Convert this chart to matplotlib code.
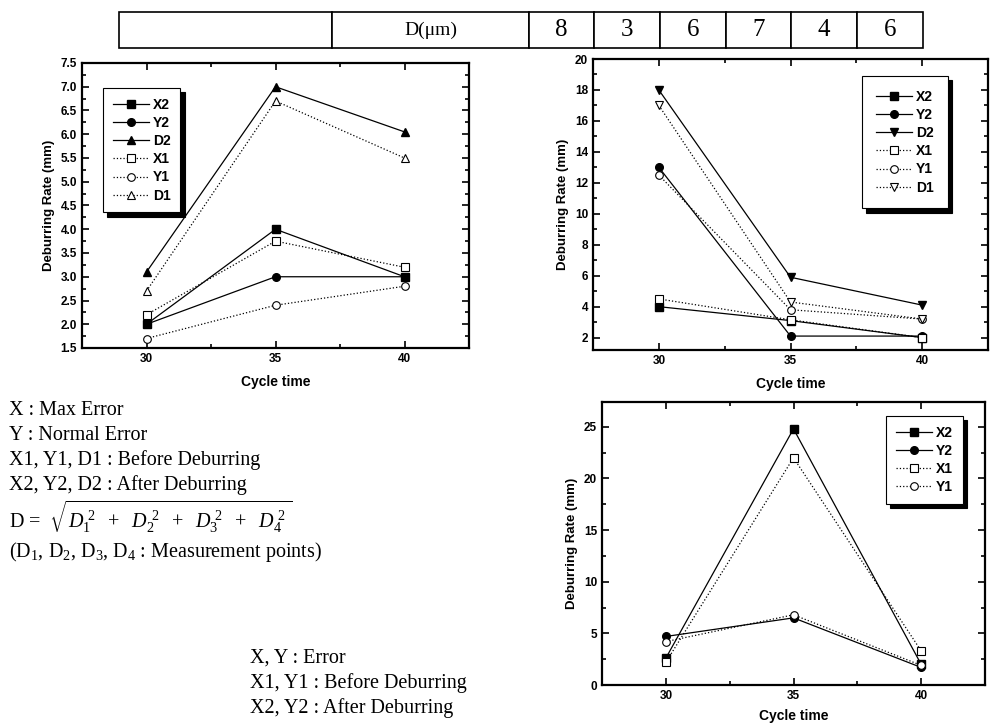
import matplotlib
matplotlib.use('Agg')
import matplotlib.pyplot as plt
from matplotlib.ticker import MultipleLocator, FormatStrFormatter

plt.rcParams['font.family'] = 'Liberation Sans'
plt.rcParams['font.weight'] = 'bold'
# math text in plain Times-like serif, not bold
plt.rcParams['mathtext.fontset'] = 'custom'
plt.rcParams['mathtext.rm'] = 'Liberation Serif:normal'
plt.rcParams['mathtext.it'] = 'Liberation Serif:italic:normal'
plt.rcParams['mathtext.bf'] = 'Liberation Serif:bold'

## data
cycle = [30, 35, 40]

# top left
tl_x2 = [2.0, 4.0, 3.0]
tl_y2 = [2.0, 3.0, 3.0]
tl_d2 = [3.1, 7.0, 6.05]
tl_x1 = [2.2, 3.75, 3.2]
tl_y1 = [1.7, 2.4, 2.8]
tl_d1 = [2.7, 6.7, 5.5]

# top right
tr_x2 = [4.0, 3.1, 2.0]
tr_y2 = [13.0, 2.1, 2.1]
tr_d2 = [18.0, 5.9, 4.1]
tr_x1 = [4.5, 3.15, 2.0]
tr_y1 = [12.5, 3.8, 3.2]
tr_d1 = [17.0, 4.3, 3.2]

# bottom right
br_x2 = [2.6, 24.8, 2.0]
br_y2 = [4.7, 6.5, 1.7]
br_x1 = [2.2, 22.0, 3.3]
br_y1 = [4.2, 6.8, 1.9]

table_head = ['', 'D(\u03bcm)']
table_vals = ['8', '3', '6', '7', '4', '6']

notes_1 = ['X : Max Error', 'Y : Normal Error',
           'X1, Y1, D1 : Before Deburring', 'X2, Y2, D2 : After Deburring']
notes_2 = ['X, Y : Error', 'X1, Y1 : Before Deburring', 'X2, Y2 : After Deburring']

W, H = 991, 724
fig = plt.figure(figsize=(W / 100, H / 100), dpi=100)


def px_axes(l, t, r, b):
    return fig.add_axes([l / W, 1 - b / H, (r - l) / W, (b - t) / H])


def style(ax, ylim, major, minor):
    ax.set_xlim(27.5, 42.5)
    ax.set_ylim(*ylim)
    ax.set_xticks(cycle)
    ax.xaxis.set_minor_locator(MultipleLocator(2.5))
    ax.yaxis.set_major_locator(MultipleLocator(major))
    ax.yaxis.set_minor_locator(MultipleLocator(minor))
    ax.tick_params(which='both', direction='in', top=True, right=True,
                   labelsize=8.5, width=1.2)
    ax.tick_params(which='major', length=5)
    ax.tick_params(which='minor', length=3)
    for s in ax.spines.values():
        s.set_linewidth(1.6)
    ax.set_xlabel('Cycle time', fontsize=10, fontweight='bold', labelpad=7)
    ax.set_ylabel('Deburring Rate (mm)', fontsize=9.5, fontweight='bold')


def series(ax, ys, labels, markers, after):
    for y, lab, m in zip(ys, labels, markers):
        if after:
            ax.plot(cycle, y, '-', color='k', lw=0.9, marker=m, ms=5.5,
                    mfc='k', mec='k', label=lab)
        else:
            ax.plot(cycle, y, ':', color='k', lw=0.9, marker=m, ms=5.5,
                    mfc='white', mec='k', mew=0.8, label=lab)


def legend(ax, anchor, pad=0.7):
    lg = ax.legend(loc='upper left', bbox_to_anchor=anchor, borderaxespad=0,
                   fontsize=10, handlelength=2.6, handletextpad=0.3,
                   labelspacing=0.3, borderpad=pad, fancybox=False,
                   edgecolor='k', framealpha=1,
                   shadow={'ox': 3, 'oy': -3, 'color': 'k', 'alpha': 1})
    lg.get_frame().set_linewidth(0.8)
    for t in lg.get_texts():
        t.set_fontweight('bold')


# top left
ax1 = px_axes(82, 63, 469, 348)
series(ax1, [tl_x2, tl_y2, tl_d2], ['X2', 'Y2', 'D2'], ['s', 'o', '^'], True)
series(ax1, [tl_x1, tl_y1, tl_d1], ['X1', 'Y1', 'D1'], ['s', 'o', '^'], False)
style(ax1, (1.5, 7.5), 0.5, 0.25)
ax1.yaxis.set_major_formatter(FormatStrFormatter('%.1f'))
legend(ax1, (0.054, 0.912))

# top right
ax2 = px_axes(593, 59, 988, 350)
series(ax2, [tr_x2, tr_y2, tr_d2], ['X2', 'Y2', 'D2'], ['s', 'o', 'v'], True)
series(ax2, [tr_x1, tr_y1, tr_d1], ['X1', 'Y1', 'D1'], ['s', 'o', 'v'], False)
style(ax2, (1.2, 20), 2, 1)
ax2.set_yticks(range(2, 21, 2))
legend(ax2, (0.681, 0.942), pad=1.0)

# bottom right
ax3 = px_axes(602, 402, 985, 685)
series(ax3, [br_x2, br_y2], ['X2', 'Y2'], ['s', 'o'], True)
series(ax3, [br_x1, br_y1], ['X1', 'Y1'], ['s', 'o'], False)
style(ax3, (0, 27.4), 5, 2.5)
ax3.xaxis.labelpad = 5
legend(ax3, (0.742, 0.951))

# table on top
axt = px_axes(119, 12, 923, 48)
axt.axis('off')
widths = [213, 197, 65, 66, 66, 65, 66, 66]
tab = axt.table(cellText=[table_head + table_vals],
                colWidths=[w / sum(widths) for w in widths],
                cellLoc='center', bbox=[0, 0, 1, 1])
tab.auto_set_font_size(False)
for (r, c), cell in tab.get_celld().items():
    cell.set_linewidth(1.2)
    txt = cell.get_text()
    txt.set_fontfamily('Liberation Serif')
    txt.set_fontweight('normal')
    txt.set_fontsize(14 if c == 1 else 18)

# notes (serif)
serif = dict(family='Liberation Serif', fontweight='normal', fontsize=14.5,
             va='center', ha='left')
for i, s in enumerate(notes_1):
    fig.text(9 / W, 1 - (410 + 25 * i) / H, s, **serif)
fig.text(9 / W, 1 - 517 / H,
         r'D =  $\sqrt{D_{1}^{\ 2}\ \ +\ \ D_{2}^{\ 2}\ \ +\ \ D_{3}^{\ 2}\ \ +\ \ D_{4}^{\ 2}\,}$',
         **serif)
fig.text(9 / W, 1 - 552 / H,
         r'(D$_1$, D$_2$, D$_3$, D$_4$ : Measurement points)', **serif)
for i, s in enumerate(notes_2):
    fig.text(250 / W, 1 - (658 + 25 * i) / H, s, **serif)

fig.savefig('out.png', dpi=100)
